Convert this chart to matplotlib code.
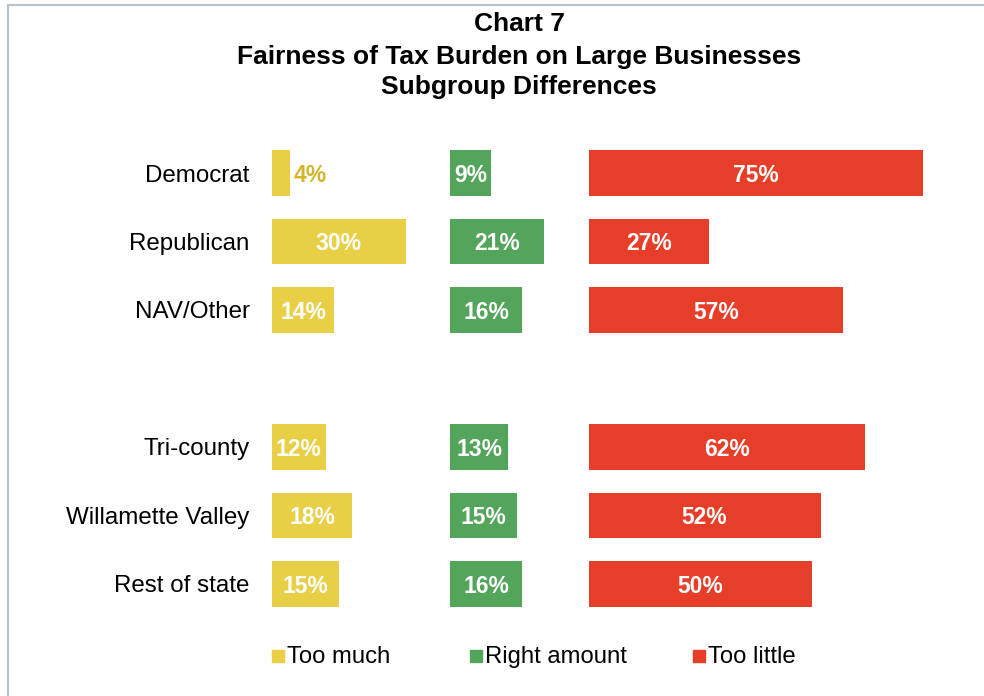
import matplotlib.pyplot as plt
from matplotlib.lines import Line2D
from matplotlib.patches import Rectangle

plt.rcParams['font.family'] = ['Liberation Sans', 'DejaVu Sans']

groups = ["Democrat", "Republican", "NAV/Other", "", "Tri-county", "Willamette Valley", "Rest of state"]
too_much = [4, 30, 14, None, 12, 18, 15]
right_amount = [9, 21, 16, None, 13, 15, 16]
too_little = [75, 27, 57, None, 62, 52, 50]

series_names = ["Too much", "Right amount", "Too little"]
colors = ["#E8CF45", "#52A55A", "#E63E28"]
offsets = [0, 40, 71]   # where each column of bars starts

fig = plt.figure(figsize=(9.84, 6.96), dpi=100)
ax = fig.add_axes([272 / 984, (696 - 618.25) / 696, 669 / 984, 479.5 / 696])

for vals, off, col in zip([too_much, right_amount, too_little], offsets, colors):
    for i, v in enumerate(vals):
        if v is None:
            continue
        ax.barh(i, v, left=off, height=0.67, color=col, edgecolor='none')
        if v < 6:
            ax.text(off + v + 0.8, i + 0.03, f"{v}%", ha='left', va='center',
                    fontsize=16.5, fontweight='bold', color="#D4B42A")
        else:
            ax.text(off + v / 2, i + 0.03, f"{v}%", ha='center', va='center',
                    fontsize=16.5, fontweight='bold', color='white')

ax.set_xlim(0, 150)
ax.set_ylim(6.5, -0.5)
ax.set_yticks(range(len(groups)))
ax.set_yticklabels(groups, fontsize=17.4)
ax.tick_params(axis='y', length=0, pad=16)
ax.set_xticks([])
for s in ax.spines.values():
    s.set_visible(False)

# title
for y, line in zip([24, 57, 87], ["Chart 7", "Fairness of Tax Burden on Large Businesses", "Subgroup Differences"]):
    fig.text(519 / 984, 1 - y / 696, line, ha='center', va='center',
             fontsize=19, fontweight='bold')

# legend
for x, name, col in zip([272, 470, 693], series_names, colors):
    fig.patches.append(Rectangle((x / 984, 1 - 662 / 696), 12 / 984, 12 / 696,
                                 transform=fig.transFigure, color=col))
    fig.text((x + 15) / 984, 1 - 657 / 696, name, ha='left', va='center', fontsize=17.2)

# outer frame
fig.add_artist(Line2D([8 / 984, 8 / 984], [0, 1 - 5 / 696], color="#B8C2CC", lw=1.5))
fig.add_artist(Line2D([8 / 984, 1], [1 - 5 / 696, 1 - 5 / 696], color="#B8C2CC", lw=1.5))

fig.savefig("out.png", dpi=100)
